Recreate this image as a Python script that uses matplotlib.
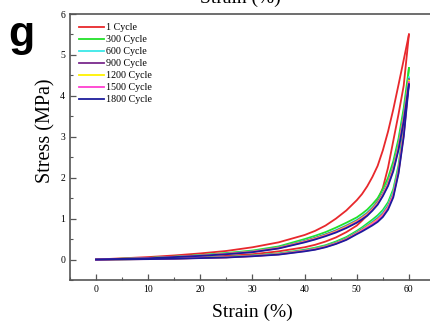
"""Stress-strain hysteresis loops over repeated cycles."""

from matplotlib import pyplot as plt
from matplotlib.ticker import MultipleLocator

# Data (strain %, stress MPa).
labels = ["1 Cycle", "300 Cycle", "600 Cycle", "900 Cycle",
          "1200 Cycle", "1500 Cycle", "1800 Cycle"]
colors = ["#e8282c", "#22e02a", "#3ae8e8", "#7a2a8c",
          "#fff200", "#ff3fd0", "#1c1c9c"]

strain = [0, 5, 10, 15, 20, 25, 30, 35, 40, 42, 44, 46, 48, 50, 51, 52, 53, 54, 55, 56, 57, 58, 59, 60]

# loading (upper) branches
load_1 = [0, 0.03, 0.06, 0.10, 0.15, 0.21, 0.30, 0.42, 0.60, 0.70, 0.83, 1.00, 1.20, 1.45, 1.60, 1.79, 2.02, 2.29, 2.67, 3.13, 3.67, 4.27, 4.88, 5.50]
load_300 = [0, 0.02, 0.04, 0.07, 0.11, 0.16, 0.22, 0.32, 0.50, 0.58, 0.67, 0.78, 0.90, 1.03, 1.12, 1.22, 1.35, 1.50, 1.72, 2.00, 2.40, 2.95, 3.70, 4.68]
load_600 = [0, 0.018, 0.036, 0.066, 0.10, 0.145, 0.20, 0.295, 0.46, 0.535, 0.62, 0.72, 0.835, 0.97, 1.055, 1.15, 1.275, 1.42, 1.63, 1.90, 2.28, 2.82, 3.55, 4.45]
load_900 = [0, 0.017, 0.034, 0.064, 0.097, 0.14, 0.195, 0.29, 0.45, 0.525, 0.61, 0.705, 0.82, 0.95, 1.035, 1.13, 1.255, 1.40, 1.61, 1.88, 2.25, 2.78, 3.50, 4.40]
load_1200 = [0, 0.016, 0.033, 0.062, 0.095, 0.137, 0.19, 0.283, 0.44, 0.513, 0.595, 0.69, 0.805, 0.935, 1.018, 1.11, 1.235, 1.38, 1.59, 1.86, 2.22, 2.75, 3.46, 4.37]
load_1500 = [0, 0.016, 0.032, 0.061, 0.093, 0.134, 0.186, 0.277, 0.43, 0.50, 0.583, 0.675, 0.787, 0.918, 1.00, 1.09, 1.215, 1.36, 1.57, 1.83, 2.19, 2.72, 3.42, 4.33]
load_1800 = [0, 0.015, 0.03, 0.06, 0.09, 0.13, 0.18, 0.27, 0.42, 0.49, 0.57, 0.66, 0.77, 0.90, 0.98, 1.07, 1.195, 1.34, 1.55, 1.80, 2.16, 2.68, 3.38, 4.28]

# unloading (lower) branches
unload_1 = [0, 0.01, 0.02, 0.04, 0.06, 0.09, 0.13, 0.20, 0.30, 0.36, 0.44, 0.54, 0.67, 0.83, 0.95, 1.08, 1.25, 1.45, 1.75, 2.25, 2.90, 3.55, 4.25, 5.50]
unload_300 = [0, 0.007, 0.015, 0.03, 0.045, 0.065, 0.10, 0.15, 0.24, 0.29, 0.35, 0.44, 0.55, 0.70, 0.785, 0.88, 0.975, 1.08, 1.21, 1.40, 1.72, 2.30, 3.25, 4.68]
unload_600 = [0, 0.006, 0.013, 0.027, 0.042, 0.06, 0.093, 0.14, 0.225, 0.27, 0.33, 0.415, 0.52, 0.67, 0.75, 0.84, 0.93, 1.03, 1.16, 1.34, 1.65, 2.23, 3.15, 4.45]
unload_900 = [0, 0.006, 0.012, 0.025, 0.04, 0.057, 0.09, 0.135, 0.22, 0.262, 0.322, 0.405, 0.51, 0.655, 0.733, 0.82, 0.905, 1.00, 1.12, 1.30, 1.60, 2.18, 3.10, 4.40]
unload_1200 = [0, 0.006, 0.012, 0.024, 0.039, 0.055, 0.087, 0.13, 0.213, 0.255, 0.315, 0.395, 0.50, 0.643, 0.72, 0.81, 0.89, 0.98, 1.10, 1.28, 1.58, 2.15, 3.07, 4.37]
unload_1500 = [0, 0.005, 0.011, 0.022, 0.037, 0.052, 0.083, 0.125, 0.207, 0.248, 0.307, 0.387, 0.49, 0.632, 0.706, 0.79, 0.87, 0.96, 1.08, 1.26, 1.56, 2.13, 3.04, 4.33]
unload_1800 = [0, 0.005, 0.01, 0.02, 0.035, 0.05, 0.08, 0.12, 0.20, 0.24, 0.30, 0.38, 0.48, 0.62, 0.686, 0.76, 0.835, 0.92, 1.04, 1.22, 1.52, 2.10, 3.00, 4.28]

loading = [load_1, load_300, load_600, load_900, load_1200, load_1500, load_1800]
unloading = [unload_1, unload_300, unload_600, unload_900, unload_1200, unload_1500, unload_1800]

x_ticks = [0, 10, 20, 30, 40, 50, 60]
y_ticks = [0, 1, 2, 3, 4, 5, 6]

plt.rcParams["font.family"] = ["Liberation Serif", "DejaVu Serif"]

fig = plt.figure(figsize=(4.31, 3.27), dpi=100)
ax = fig.add_axes([70 / 431, 47 / 327, 365 / 431, 266 / 327])

for lab, col, up, down in zip(labels, colors, loading, unloading):
    ax.plot(strain, up, color=col, lw=1.3, label=lab)
    ax.plot(strain, down, color=col, lw=1.3)

ax.set_xlim(-5, 65)
ax.set_ylim(-0.5, 6)
ax.set_xticks(x_ticks)
ax.set_yticks(y_ticks)
ax.xaxis.set_minor_locator(MultipleLocator(5))
ax.yaxis.set_minor_locator(MultipleLocator(0.5))
ax.tick_params(which="both", direction="in", labelsize=7, color="#555555")
ax.tick_params(which="major", length=4, width=0.9)
ax.tick_params(which="minor", length=2, width=0.8)
for sp in ax.spines.values():
    sp.set_color("#555555")
    sp.set_linewidth(1.2)

ax.set_xlabel("Strain (%)", fontsize=14, labelpad=7)
ax.set_ylabel("Stress (MPa)", fontsize=14.5)
ax.yaxis.set_label_coords(-0.039, 0.56)

ax.legend(loc="upper left", fontsize=7.2, frameon=False, handlelength=2.5,
          handletextpad=0.2, labelspacing=0.3, borderaxespad=0.5,
          borderpad=0.4)

# Panel letter and cut-off title from the figure above.
fig.text(8 / 431, 1 - 15 / 327, "g", fontsize=31, fontweight="bold",
         family="Liberation Sans", va="top", ha="left")
fig.text(240 / 431, 1 - 3 / 327, "Strain (%)", fontsize=14,
         va="baseline", ha="center")

fig.savefig("out.png", dpi=100)
